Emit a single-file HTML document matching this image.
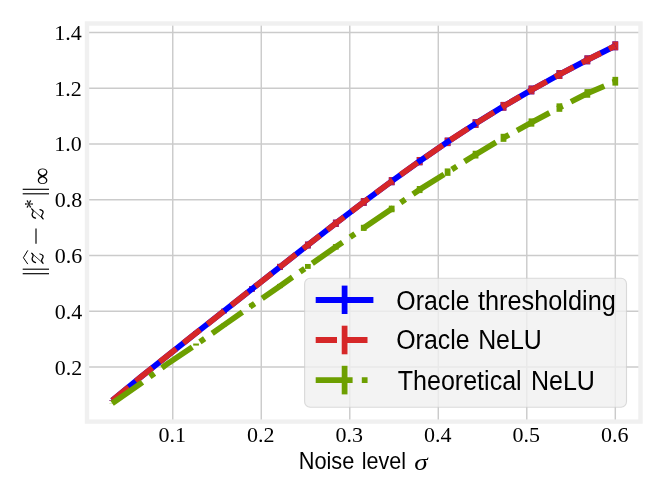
<!DOCTYPE html>
<html><head><meta charset="utf-8"><title>chart</title>
<style>
html,body{margin:0;padding:0;background:#fff;}
svg{display:block;will-change:transform;}

.tick text{font-family:"Liberation Serif",serif;font-size:22px;fill:#000;}
.sans{font-family:"Liberation Sans",sans-serif;fill:#000;}
.serif{font-family:"Liberation Serif",serif;fill:#000;}
</style></head><body>
<svg width="664" height="498" viewBox="0 0 664 498">
<rect width="664" height="498" fill="#ffffff"/>
<g stroke="#cbcbcb" stroke-width="1.44" fill="none">
<line x1="172.75" y1="23.5" x2="172.75" y2="421.6"/>
<line x1="261.26" y1="23.5" x2="261.26" y2="421.6"/>
<line x1="349.77" y1="23.5" x2="349.77" y2="421.6"/>
<line x1="438.28" y1="23.5" x2="438.28" y2="421.6"/>
<line x1="526.79" y1="23.5" x2="526.79" y2="421.6"/>
<line x1="615.30" y1="23.5" x2="615.30" y2="421.6"/>
<line x1="87" y1="367.00" x2="640.5" y2="367.00"/>
<line x1="87" y1="311.24" x2="640.5" y2="311.24"/>
<line x1="87" y1="255.48" x2="640.5" y2="255.48"/>
<line x1="87" y1="199.72" x2="640.5" y2="199.72"/>
<line x1="87" y1="143.96" x2="640.5" y2="143.96"/>
<line x1="87" y1="88.20" x2="640.5" y2="88.20"/>
<line x1="87" y1="32.44" x2="640.5" y2="32.44"/>
</g>
<g fill="none" stroke-linejoin="round" stroke-linecap="butt">
<rect x="109.33" y="400.24" width="5.76" height="0.54" fill="#0000ff"/>
<rect x="137.28" y="376.85" width="5.76" height="1.45" fill="#0000ff"/>
<rect x="165.23" y="353.97" width="5.76" height="2.48" fill="#0000ff"/>
<rect x="193.18" y="331.32" width="5.76" height="3.51" fill="#0000ff"/>
<rect x="221.13" y="308.78" width="5.76" height="4.49" fill="#0000ff"/>
<rect x="249.08" y="286.29" width="5.76" height="5.36" fill="#0000ff"/>
<rect x="277.03" y="263.89" width="5.76" height="6.12" fill="#0000ff"/>
<rect x="304.98" y="241.65" width="5.76" height="6.75" fill="#0000ff"/>
<rect x="332.93" y="219.69" width="5.76" height="7.26" fill="#0000ff"/>
<rect x="360.87" y="198.15" width="5.76" height="7.68" fill="#0000ff"/>
<rect x="388.82" y="177.20" width="5.76" height="8.00" fill="#0000ff"/>
<rect x="416.77" y="156.99" width="5.76" height="8.24" fill="#0000ff"/>
<rect x="444.72" y="137.65" width="5.76" height="8.43" fill="#0000ff"/>
<rect x="472.67" y="119.28" width="5.76" height="8.57" fill="#0000ff"/>
<rect x="500.62" y="101.94" width="5.76" height="8.67" fill="#0000ff"/>
<rect x="528.57" y="85.60" width="5.76" height="8.74" fill="#0000ff"/>
<rect x="556.52" y="70.16" width="5.76" height="8.79" fill="#0000ff"/>
<rect x="584.47" y="55.43" width="5.76" height="8.83" fill="#0000ff"/>
<rect x="612.42" y="41.40" width="5.76" height="8.85" fill="#0000ff"/>
<rect x="109.33" y="400.24" width="5.76" height="0.54" fill="#d62728"/>
<rect x="137.28" y="376.85" width="5.76" height="1.45" fill="#d62728"/>
<rect x="165.23" y="353.97" width="5.76" height="2.48" fill="#d62728"/>
<rect x="193.18" y="331.32" width="5.76" height="3.51" fill="#d62728"/>
<rect x="221.13" y="308.78" width="5.76" height="4.49" fill="#d62728"/>
<rect x="249.08" y="286.29" width="5.76" height="5.36" fill="#d62728"/>
<rect x="277.03" y="263.89" width="5.76" height="6.12" fill="#d62728"/>
<rect x="304.98" y="241.65" width="5.76" height="6.75" fill="#d62728"/>
<rect x="332.93" y="219.69" width="5.76" height="7.26" fill="#d62728"/>
<rect x="360.87" y="198.15" width="5.76" height="7.68" fill="#d62728"/>
<rect x="388.82" y="177.20" width="5.76" height="8.00" fill="#d62728"/>
<rect x="416.77" y="156.99" width="5.76" height="8.24" fill="#d62728"/>
<rect x="444.72" y="137.65" width="5.76" height="8.43" fill="#d62728"/>
<rect x="472.67" y="119.28" width="5.76" height="8.57" fill="#d62728"/>
<rect x="500.62" y="101.94" width="5.76" height="8.67" fill="#d62728"/>
<rect x="528.57" y="85.60" width="5.76" height="8.74" fill="#d62728"/>
<rect x="556.52" y="70.16" width="5.76" height="8.79" fill="#d62728"/>
<rect x="584.47" y="55.43" width="5.76" height="8.83" fill="#d62728"/>
<rect x="612.42" y="41.40" width="5.76" height="8.85" fill="#d62728"/>
<rect x="109.33" y="403.29" width="5.76" height="0.25" fill="#6d9f00"/>
<rect x="137.28" y="383.55" width="5.76" height="0.73" fill="#6d9f00"/>
<rect x="165.23" y="362.62" width="5.76" height="1.35" fill="#6d9f00"/>
<rect x="193.18" y="343.54" width="5.76" height="2.04" fill="#6d9f00"/>
<rect x="221.13" y="323.62" width="5.76" height="2.77" fill="#6d9f00"/>
<rect x="249.08" y="303.62" width="5.76" height="3.50" fill="#6d9f00"/>
<rect x="277.03" y="283.91" width="5.76" height="4.22" fill="#6d9f00"/>
<rect x="304.98" y="263.98" width="5.76" height="4.90" fill="#6d9f00"/>
<rect x="332.93" y="244.10" width="5.76" height="5.52" fill="#6d9f00"/>
<rect x="360.87" y="224.80" width="5.76" height="6.09" fill="#6d9f00"/>
<rect x="388.82" y="205.64" width="5.76" height="6.60" fill="#6d9f00"/>
<rect x="416.77" y="186.02" width="5.76" height="7.05" fill="#6d9f00"/>
<rect x="444.72" y="168.43" width="5.76" height="7.44" fill="#6d9f00"/>
<rect x="472.67" y="150.75" width="5.76" height="7.77" fill="#6d9f00"/>
<rect x="500.62" y="133.79" width="5.76" height="8.05" fill="#6d9f00"/>
<rect x="528.57" y="118.39" width="5.76" height="8.28" fill="#6d9f00"/>
<rect x="556.52" y="103.35" width="5.76" height="8.47" fill="#6d9f00"/>
<rect x="584.47" y="89.12" width="5.76" height="8.63" fill="#6d9f00"/>
<rect x="612.42" y="76.85" width="5.76" height="8.76" fill="#6d9f00"/>
<polyline points="112.21,400.51 140.16,377.58 168.11,355.21 196.06,333.08 224.01,311.02 251.96,288.97 279.91,266.95 307.86,245.02 335.81,223.32 363.75,201.99 391.70,181.20 419.65,161.11 447.60,141.86 475.55,123.57 503.50,106.27 531.45,89.97 559.40,74.56 587.35,59.84 615.30,45.82" stroke="#0000ff" stroke-width="5.76"/>
<polyline points="112.21,400.51 140.16,377.58 168.11,355.21 196.06,333.08 224.01,311.02 251.96,288.97 279.91,266.95 307.86,245.02 335.81,223.32 363.75,201.99 391.70,181.20 419.65,161.11 447.60,141.86 475.55,123.57 503.50,106.27 531.45,89.97 559.40,74.56 587.35,59.84 615.30,45.82" stroke="#d62728" stroke-width="5.76" stroke-dasharray="21.3 9.2"/>
<polyline points="112.21,403.41 140.16,383.92 168.11,363.30 196.06,344.56 224.01,325.01 251.96,305.37 279.91,286.02 307.86,266.43 335.81,246.86 363.75,227.84 391.70,208.94 419.65,189.55 447.60,172.15 475.55,154.63 503.50,137.81 531.45,122.53 559.40,107.59 587.35,93.43 615.30,81.23" stroke="#6d9f00" stroke-width="5.76" stroke-dasharray="36.9 9.2 5.76 9.2"/>
</g>
<rect x="87" y="23.5" width="553.5" height="398.1" fill="none" stroke="#f0f0f0" stroke-width="4.4"/>
<!-- legend -->
<rect x="304.6" y="278.2" width="321.9" height="129" rx="5.5" ry="5.5" fill="#f0f0f0" fill-opacity="0.8" stroke="#cccccc" stroke-opacity="0.7" stroke-width="1.1"/>
<g fill="none" stroke-width="5.76">
<line x1="315.7" y1="300" x2="373.4" y2="300" stroke="#0000ff"/>
<line x1="344.6" y1="285.6" x2="344.6" y2="314.0" stroke="#0000ff"/>
<line x1="315.7" y1="340" x2="373.4" y2="340" stroke="#d62728" stroke-dasharray="21.3 9.2"/>
<line x1="344.6" y1="325.7" x2="344.6" y2="354.3" stroke="#d62728"/>
<line x1="315.7" y1="380.1" x2="373.4" y2="380.1" stroke="#6d9f00" stroke-dasharray="36.9 9.2 5.76 9.2"/>
<line x1="344.6" y1="365.8" x2="344.6" y2="394.4" stroke="#6d9f00"/>
</g>
<text x="396.35" y="309.6" font-family="Liberation Sans" font-size="27" font-style="normal" textLength="73.13" lengthAdjust="spacingAndGlyphs">Oracle</text>
<text x="477.93" y="309.6" font-family="Liberation Sans" font-size="27" font-style="normal" textLength="137.91" lengthAdjust="spacingAndGlyphs">thresholding</text>
<text x="396.25" y="349.4" font-family="Liberation Sans" font-size="27" font-style="normal" textLength="73.33" lengthAdjust="spacingAndGlyphs">Oracle</text>
<text x="478.13" y="349.4" font-family="Liberation Sans" font-size="27" font-style="normal" textLength="63.65" lengthAdjust="spacingAndGlyphs">NeLU</text>
<text x="397.74" y="389.6" font-family="Liberation Sans" font-size="27" font-style="normal" textLength="123.96" lengthAdjust="spacingAndGlyphs">Theoretical</text>
<text x="530.92" y="389.6" font-family="Liberation Sans" font-size="27" font-style="normal" textLength="63.97" lengthAdjust="spacingAndGlyphs">NeLU</text>
<g class="tick">
<text x="158.55" y="442.1">0.1</text>
<text x="247.06" y="442.1">0.2</text>
<text x="335.57" y="442.1">0.3</text>
<text x="424.08" y="442.1">0.4</text>
<text x="512.59" y="442.1">0.5</text>
<text x="601.10" y="442.1">0.6</text>
<text x="54.85" y="374.50">0.2</text>
<text x="54.85" y="318.74">0.4</text>
<text x="54.85" y="262.98">0.6</text>
<text x="54.85" y="207.22">0.8</text>
<text x="54.35" y="151.46">1.0</text>
<text x="54.35" y="95.70">1.2</text>
<text x="54.35" y="39.94">1.4</text>
</g>
<text x="298.71" y="469.4" font-family="Liberation Sans" font-size="24.3" font-style="normal" textLength="55.60" lengthAdjust="spacingAndGlyphs">Noise</text>
<text x="361.65" y="469.4" font-family="Liberation Sans" font-size="24.3" font-style="normal" textLength="44.29" lengthAdjust="spacingAndGlyphs">level</text>
<text x="414.39" y="469.6" font-family="Liberation Serif" font-size="22.3" font-style="italic" textLength="13.40" lengthAdjust="spacingAndGlyphs">σ</text>
<!-- ylabel -->
<g transform="translate(44,275) rotate(-90)">
<g stroke="#000" stroke-width="1.15" fill="none">
<line x1="1.3" y1="-21.3" x2="1.3" y2="5"/><line x1="5.8" y1="-21.3" x2="5.8" y2="5"/>
<line x1="31.2" y1="-8" x2="46.4" y2="-8"/>
<line x1="81.2" y1="-21.3" x2="81.2" y2="5"/><line x1="85.7" y1="-21.3" x2="85.7" y2="5"/>
<polyline points="10.9,-16.2 17.3,-20.6 24.6,-16.2" stroke-width="1"/>
</g>
<g id="zz" fill="none" stroke="#000" stroke-linecap="round" stroke-linejoin="round">
<g transform="translate(11.2,-0.6)"><path d="M1.2,-7.9 C1.8,-9.9 3.2,-11.3 4.7,-11.3 C6.0,-11.3 6.9,-10.3 8.2,-10.3 C9.2,-10.3 9.9,-10.8 10.5,-11.6" stroke-width="1.25"/><path d="M10.5,-11.6 L0.6,-0.4" stroke-width="0.8"/><path d="M0.6,-0.4 C1.5,-1.4 2.3,-1.8 3.2,-1.8 C4.7,-1.8 5.6,-0.3 7.1,-0.3 C8.5,-0.3 9.5,-1.6 9.8,-3.4" stroke-width="1.25"/></g>
<g transform="translate(55.6,-0.6)"><path d="M1.2,-7.9 C1.8,-9.9 3.2,-11.3 4.7,-11.3 C6.0,-11.3 6.9,-10.3 8.2,-10.3 C9.2,-10.3 9.9,-10.8 10.5,-11.6" stroke-width="1.25"/><path d="M10.5,-11.6 L0.6,-0.4" stroke-width="0.8"/><path d="M0.6,-0.4 C1.5,-1.4 2.3,-1.8 3.2,-1.8 C4.7,-1.8 5.6,-0.3 7.1,-0.3 C8.5,-0.3 9.5,-1.6 9.8,-3.4" stroke-width="1.25"/></g>
</g>
<text x="66.29" y="-4.8" font-family="Liberation Serif" font-size="21" font-style="normal" textLength="9.51" lengthAdjust="spacingAndGlyphs">*</text>
<text x="90.04" y="6.1" font-family="Liberation Serif" font-size="25.6" font-style="normal" textLength="17.52" lengthAdjust="spacingAndGlyphs">∞</text>
</g>
</svg>
</body></html>
